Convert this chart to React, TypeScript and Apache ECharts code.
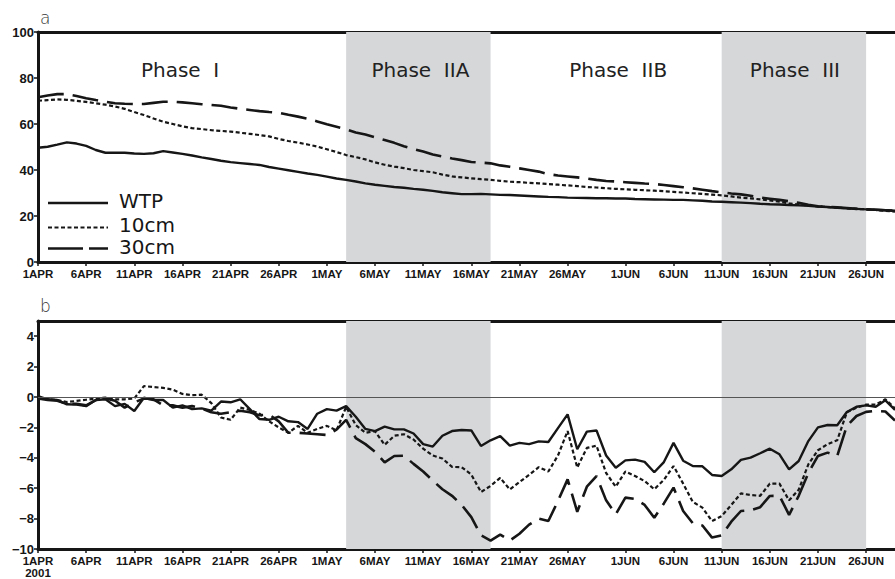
import React, { useEffect, useRef } from 'react';
import * as echarts from 'echarts';

const MONTHS = ['APR', 'MAY', 'JUN'];
const MONTH_DAYS = [30, 31, 29];
const LABEL_DAYS = [1, 6, 11, 16, 21, 26];
const dates: string[] = [];
MONTHS.forEach((m, i) => {
  for (let d = 1; d <= MONTH_DAYS[i]; d++) dates.push(d + m);
});

// Panel a: daily values
const wtp = [49.7,50.1,51.0,52.0,51.5,50.5,48.7,47.5,47.5,47.5,
 47.2,47.0,47.3,48.2,47.6,47.0,46.3,45.5,44.8,44.0,
 43.4,43.0,42.6,42.2,41.3,40.6,39.9,39.2,38.5,37.9,
 37.1,36.3,35.7,35.0,34.2,33.6,33.1,32.6,32.3,31.8,
 31.4,30.9,30.3,29.9,29.5,29.5,29.6,29.4,29.2,29.1,
 28.9,28.7,28.5,28.3,28.2,28.0,27.9,27.8,27.7,27.7,
 27.6,27.6,27.4,27.3,27.2,27.1,27.0,27.0,26.8,26.6,
 26.3,26.2,26.0,25.8,25.6,25.3,25.1,25.0,24.8,24.6,
 24.4,24.1,23.9,23.6,23.3,23.1,22.9,22.7,22.5,22.3];
const cm10 = [70.1,70.4,70.7,70.5,70.1,69.6,69.0,68.4,67.6,66.6,
 65.2,63.9,62.4,61.0,60.0,59.0,58.2,57.8,57.3,57.0,
 56.7,56.2,55.7,55.2,54.6,53.5,52.6,51.9,51.1,50.2,
 49.0,47.8,46.5,45.6,44.6,43.3,42.3,41.5,40.8,40.0,
 39.5,39.0,38.0,37.2,36.8,36.4,36.0,35.7,35.3,34.9,
 34.7,34.4,34.2,33.9,33.6,33.3,33.0,32.6,32.4,32.1,
 31.8,31.6,31.4,31.2,31.0,30.8,30.5,30.2,29.9,29.6,
 29.3,29.0,28.5,28.0,27.7,27.2,26.8,26.2,25.5,25.0,
 24.6,24.2,23.9,23.6,23.3,23.1,22.9,22.6,22.2,21.9];
const cm30 = [71.6,72.4,73.0,73.0,72.2,71.2,70.4,69.7,69.0,68.8,
 68.7,68.7,69.2,69.7,69.7,69.4,69.0,68.6,68.3,67.9,
 67.2,66.6,66.1,65.6,65.2,64.9,64.0,63.2,62.3,61.1,
 59.9,58.8,57.7,56.3,55.4,54.2,53.0,51.8,50.3,49.1,
 48.0,46.7,45.9,45.0,44.3,43.5,43.2,42.9,42.0,41.4,
 40.7,40.0,39.3,38.2,37.6,37.2,36.8,36.3,35.7,35.2,
 35.0,34.7,34.4,34.1,33.9,33.5,33.0,32.5,32.0,31.4,
 30.8,30.3,29.8,29.4,28.8,28.0,27.5,27.0,26.4,25.7,
 24.9,24.2,24.0,23.8,23.5,23.1,22.9,22.7,22.5,22.3];

// Panel b: daily values
const wtpB = [0.05,-0.15,-0.2,-0.48,-0.5,-0.6,-0.2,-0.15,-0.6,-0.45,
 -0.92,-0.05,-0.2,-0.2,-0.7,-0.55,-0.8,-0.75,-0.9,-0.3,
 -0.35,-0.15,-0.8,-1.45,-1.5,-1.3,-1.6,-1.65,-2.1,-1.1,
 -0.8,-0.9,-0.6,-1.3,-2.1,-2.25,-1.95,-2.13,-2.13,-2.4,
 -3.1,-3.26,-2.55,-2.24,-2.17,-2.2,-3.22,-2.85,-2.57,-3.2,
 -3.02,-3.1,-2.92,-2.96,-2.05,-1.14,-3.44,-2.28,-2.2,-3.85,
 -4.65,-4.17,-4.12,-4.27,-4.95,-4.28,-3.02,-4.19,-4.54,-4.56,
 -5.13,-5.2,-4.76,-4.14,-3.99,-3.7,-3.4,-3.77,-4.76,-4.21,
 -2.9,-2.0,-1.84,-1.86,-0.99,-0.64,-0.55,-0.64,-0.22,-0.85];
const cm10B = [-0.04,-0.15,-0.2,-0.33,-0.26,-0.18,-0.1,-0.04,-0.15,-0.15,
 -0.1,0.72,0.65,0.6,0.48,0.2,0.12,0.15,-0.4,-1.35,
 -1.5,-0.7,-0.85,-1.1,-1.6,-2.0,-2.35,-1.9,-2.35,-2.1,
 -1.9,-2.2,-0.65,-1.85,-2.35,-2.25,-3.15,-2.55,-2.45,-2.8,
 -3.4,-3.85,-4.05,-4.6,-4.62,-5.1,-6.25,-5.85,-5.32,-6.08,
 -5.6,-5.12,-4.62,-4.9,-3.85,-2.24,-4.64,-3.35,-3.2,-5.0,
 -5.9,-4.9,-5.2,-5.53,-6.07,-5.45,-4.54,-5.7,-6.9,-7.28,
 -8.16,-7.83,-7.1,-6.34,-6.45,-6.5,-5.7,-5.7,-6.8,-6.1,
 -4.43,-3.5,-3.1,-2.85,-1.0,-0.7,-0.5,-0.5,-0.15,-0.75];
const cm30B = [-0.1,-0.2,-0.25,-0.45,-0.45,-0.55,-0.2,-0.1,-0.25,-0.7,
 -0.35,-0.1,-0.15,-0.55,-0.55,-0.7,-0.6,-0.75,-1.0,-1.1,
 -1.0,-0.9,-1.0,-1.2,-1.15,-1.6,-2.35,-2.35,-2.4,-2.45,
 -2.5,-2.15,-1.5,-2.7,-3.1,-3.6,-4.3,-3.88,-3.86,-4.4,
 -4.9,-5.5,-6.07,-6.5,-7.1,-7.9,-9.1,-9.45,-9.05,-9.45,
 -9.0,-8.4,-8.0,-8.16,-6.84,-5.42,-7.55,-5.9,-5.2,-6.8,
 -7.72,-6.62,-6.7,-7.1,-7.94,-7.0,-5.96,-7.5,-8.3,-8.45,
 -9.25,-9.1,-8.2,-7.5,-7.45,-7.25,-6.51,-6.5,-7.75,-6.5,
 -5.0,-3.88,-3.66,-3.88,-1.9,-1.25,-0.98,-0.92,-0.95,-1.55];

const PHASE_NAMES = ['Phase  I', 'Phase  IIA', 'Phase  IIB', 'Phase  III'];
const PHASE_FROM = ['1APR', '3MAY', '18MAY', '11JUN'];
const PHASE_TO = ['3MAY', '18MAY', '11JUN', '26JUN'];
const PHASE_SHADED = [false, true, false, true];
const PHASE_LABEL_SHIFT = [-12, 2, 12, 1];

const SERIES_NAMES = ['WTP', '10cm', '30cm'];

const INK = '#161616';
const SHADE = '#d5d7d9';
const STYLES = [
  { type: 'solid' as any, width: 2.4 },
  { type: [4, 2.5], width: 2.2 },
  { type: [26, 9], width: 2.6 },
];

const xLabelFont = "'Liberation Sans', Arial, sans-serif";
const yLabelFont = "'Liberation Sans', Arial, sans-serif";
const textFont = "'DejaVu Sans', 'Noto Sans', sans-serif";

const showLabel = (_i: number, v: string) => LABEL_DAYS.includes(parseInt(v, 10));

function bottomAxis(gridIndex: number, withYear: boolean) {
  return {
    type: 'category',
    gridIndex,
    data: dates,
    boundaryGap: false,
    position: 'bottom',
    axisLine: { show: true, onZero: false, lineStyle: { color: INK, width: 3 } },
    axisTick: { show: true, interval: showLabel, length: 4, lineStyle: { color: INK, width: 1.5 } },
    axisLabel: {
      interval: showLabel,
      margin: 6,
      color: INK,
      fontFamily: xLabelFont,
      fontWeight: 'bold',
      fontSize: 11.5,
      lineHeight: 12,
      formatter: (v: string, i: number) => (withYear && i === 0 ? v + '\n2001' : v),
    },
    splitLine: { show: false },
  };
}

function topAxis(gridIndex: number) {
  return {
    type: 'category',
    gridIndex,
    data: dates,
    boundaryGap: false,
    position: 'top',
    axisLine: { show: true, onZero: false, lineStyle: { color: INK, width: 3 } },
    axisTick: { show: false },
    axisLabel: { show: false },
    splitLine: { show: false },
  };
}

function yAxis(gridIndex: number, min: number, max: number, interval: number) {
  return {
    type: 'value',
    gridIndex,
    min,
    max,
    interval,
    axisLine: { show: true, onZero: false, lineStyle: { color: INK, width: 3 } },
    axisTick: { show: true, length: 4, lineStyle: { color: INK, width: 1.5 } },
    axisLabel: {
      margin: 4,
      color: INK,
      fontFamily: yLabelFont,
      fontWeight: 'bold',
      fontSize: 13,
      showMaxLabel: interval === 2 ? false : true,
      formatter: (v: number) => String(v).replace('-', '\u2212'),
    },
    splitLine: { show: false },
  };
}

function phaseAreas(withLabels: boolean) {
  return {
    silent: true,
    data: PHASE_NAMES.map((name, i) => [
      {
        name,
        xAxis: PHASE_FROM[i],
        itemStyle: { color: PHASE_SHADED[i] ? SHADE : 'rgba(0,0,0,0)' },
        label: {
          show: withLabels,
          position: 'insideTop',
          distance: 28,
          offset: [PHASE_LABEL_SHIFT[i], 0],
          color: '#222',
          fontFamily: textFont,
          fontSize: 20,
        },
      },
      { xAxis: PHASE_TO[i] },
    ]),
  };
}

export default function App() {
  const ref = useRef<HTMLDivElement>(null);
  useEffect(() => {
    if (!ref.current) return;
    const chart = echarts.init(ref.current, null, { renderer: 'svg' });
    const topData = [wtp, cm10, cm30];
    const botData = [wtpB, cm10B, cm30B];
    const series: any[] = [];
    topData.forEach((d, i) => {
      series.push({
        name: SERIES_NAMES[i],
        type: 'line',
        xAxisIndex: 0,
        yAxisIndex: 0,
        data: d,
        showSymbol: false,
        symbol: 'none',
        z: 3,
        lineStyle: { color: INK, width: STYLES[i].width, type: STYLES[i].type },
        markArea: i === 0 ? phaseAreas(true) : undefined,
      });
    });
    botData.forEach((d, i) => {
      series.push({
        name: SERIES_NAMES[i] + ' diff',
        type: 'line',
        xAxisIndex: 1,
        yAxisIndex: 1,
        data: d,
        showSymbol: false,
        symbol: 'none',
        z: 3,
        lineStyle: { color: INK, width: STYLES[i].width, type: STYLES[i].type },
        markArea: i === 0 ? phaseAreas(false) : undefined,
        markLine:
          i === 0
            ? {
                silent: true,
                symbol: ['none', 'none'],
                label: { show: false },
                lineStyle: { color: '#555', width: 1, type: 'solid' },
                data: [{ yAxis: 0 }],
              }
            : undefined,
      });
    });

    const legendY = [203, 227.5, 248.5];
    const legendTextY = [201, 224.5, 246.5];
    const legendDash: any[] = [null, [4, 2.5], [35, 6]];
    const legendEls: any[] = [];
    SERIES_NAMES.forEach((n, i) => {
      legendEls.push({
        type: 'line',
        shape: { x1: 48, y1: legendY[i], x2: 108, y2: legendY[i] },
        style: { stroke: INK, lineWidth: STYLES[i].width, lineDash: legendDash[i] },
        z: 10,
      });
      legendEls.push({
        type: 'text',
        x: 119,
        y: legendTextY[i],
        style: {
          text: n,
          fill: INK,
          font: `20px ${textFont}`,
          lineHeight: 19,
          textVerticalAlign: 'middle',
          verticalAlign: 'middle',
        },
        z: 10,
      });
    });

    chart.setOption({
      animation: false,
      backgroundColor: '#ffffff',
      grid: [
        { left: 38, right: 0, top: 32, height: 230 },
        { left: 38, right: 0, top: 321, height: 228 },
      ],
      xAxis: [bottomAxis(0, false), bottomAxis(1, true), topAxis(0), topAxis(1)],
      yAxis: [yAxis(0, 0, 100, 20), yAxis(1, -10, 5, 2)],
      series,
      graphic: [
        ...legendEls,
        {
          type: 'text',
          x: 40,
          y: 18,
          style: { text: 'a', fill: '#333', font: `300 17px ${textFont}`, verticalAlign: 'middle' },
        },
        {
          type: 'text',
          x: 40,
          y: 306,
          style: { text: 'b', fill: '#333', font: `300 17px ${textFont}`, verticalAlign: 'middle' },
        },
      ],
    });
    return () => chart.dispose();
  }, []);
  return (
    <div
      ref={ref}
      style={{ position: 'absolute', left: 0, top: 0, width: 895, height: 579, background: '#fff' }}
    />
  );
}
